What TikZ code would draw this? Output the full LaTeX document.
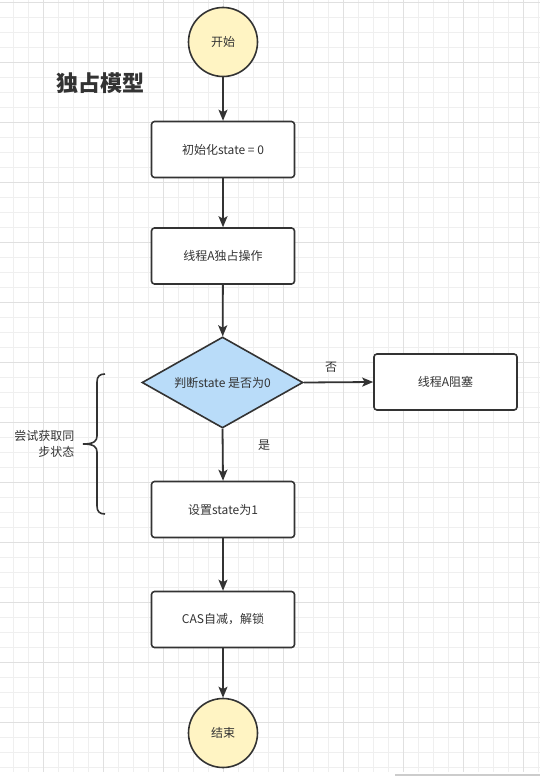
\documentclass[tikz,border=0pt]{standalone}
\usepackage{fontspec}
\setmainfont{Noto Sans CJK SC}
\usetikzlibrary{shapes.geometric,arrows.meta}
\definecolor{ink}{HTML}{333333}
\definecolor{yel}{HTML}{FFF4C3}
\definecolor{blu}{HTML}{B9DCF9}
\definecolor{gminor}{HTML}{EFEFEF}
\definecolor{gmajor}{HTML}{E0E0E0}
\begin{document}
\begin{tikzpicture}[x=1pt,y=-1pt,
  txt/.style={text=ink,font=\fontsize{12}{14}\selectfont},
  stepbox/.style={txt,draw=ink,line width=1.6pt,rounded corners=3pt,fill=white,minimum width=143pt,minimum height=56pt,inner sep=0pt},
  term/.style={txt,circle,draw=ink,line width=1.6pt,fill=yel,minimum size=69pt,inner sep=0pt},
  decide/.style={txt,diamond,shape aspect=1.77,draw=ink,line width=1.6pt,fill=blu,minimum width=161pt,minimum height=91pt,inner sep=0pt},
  flow/.style={draw=ink,line width=1.8pt,-{Stealth[length=11pt,width=9pt,inset=2.5pt]}},
  lbl/.style={txt}
]
\useasboundingbox (0,0) rectangle (540,776);
\fill[white] (0,0) rectangle (540,776);
% grid
\foreach \i in {0,...,35} {
  \pgfmathsetmacro\xx{13.3+15*\i}
  \draw[gminor,line width=0.9pt] (\xx,0) -- (\xx,772);
}
\foreach \i in {0,...,51} {
  \pgfmathsetmacro\yy{2.7+15*\i}
  \draw[gminor,line width=0.9pt] (0,\yy) -- (540,\yy);
}
\foreach \i in {0,...,8} {
  \pgfmathsetmacro\xx{43.3+60*\i}
  \draw[gmajor,line width=0.9pt] (\xx,0) -- (\xx,772);
}
\foreach \i in {0,...,12} {
  \pgfmathsetmacro\yy{2.7+60*\i}
  \draw[gmajor,line width=0.9pt] (0,\yy) -- (540,\yy);
}
\fill[white] (0,772.5) rectangle (540,776);
\fill[black!20] (395,773.5) rectangle (540,776);

% title
\node[text=ink,font=\fontsize{22}{24}\selectfont\bfseries] (title) at (100.5,83) {独占模型};

% nodes
\node[term] (start) at (223,42) {开始};
\node[stepbox] (init) at (223,149.5) {初始化state = 0};
\node[stepbox] (op) at (223,256) {线程A独占操作};
\node[decide] (dec) at (222.5,382.5) {判断state 是否为0};
\node[stepbox] (block) at (445.5,382) {线程A阻塞};
\node[stepbox] (set) at (223,509.5) {设置state为1};
\node[stepbox] (cas) at (223,619.5) {CAS自减，解锁};
\node[term] (end) at (223,733) {结束};

% connectors
\draw[flow] (start) -- (init);
\draw[flow] (init) -- (op);
\draw[flow] (op) -- (dec);
\draw[flow] (dec.east) -- (block.west);
\draw[flow] (dec.south) -- (set.north);
\draw[flow] (set) -- (cas);
\draw[flow] (cas) -- (end);

\node[lbl] (no) at (331,367) {否};
\node[lbl] (yes) at (264,445) {是};

% brace
\draw[ink,line width=1.6pt] (105,374) .. controls (99.5,374) and (97,376.5) .. (97,382) -- (97,436)
  .. controls (97,441) and (94,444) .. (83,444)
  .. controls (94,444) and (97,447) .. (97,452) -- (97,506)
  .. controls (97,511.5) and (99.5,514) .. (105,514);
\node[txt,align=right,anchor=east,font=\fontsize{12}{16}\selectfont] (bracetxt) at (78,444) {尝试获取同\\步状态};
\end{tikzpicture}
\end{document}
